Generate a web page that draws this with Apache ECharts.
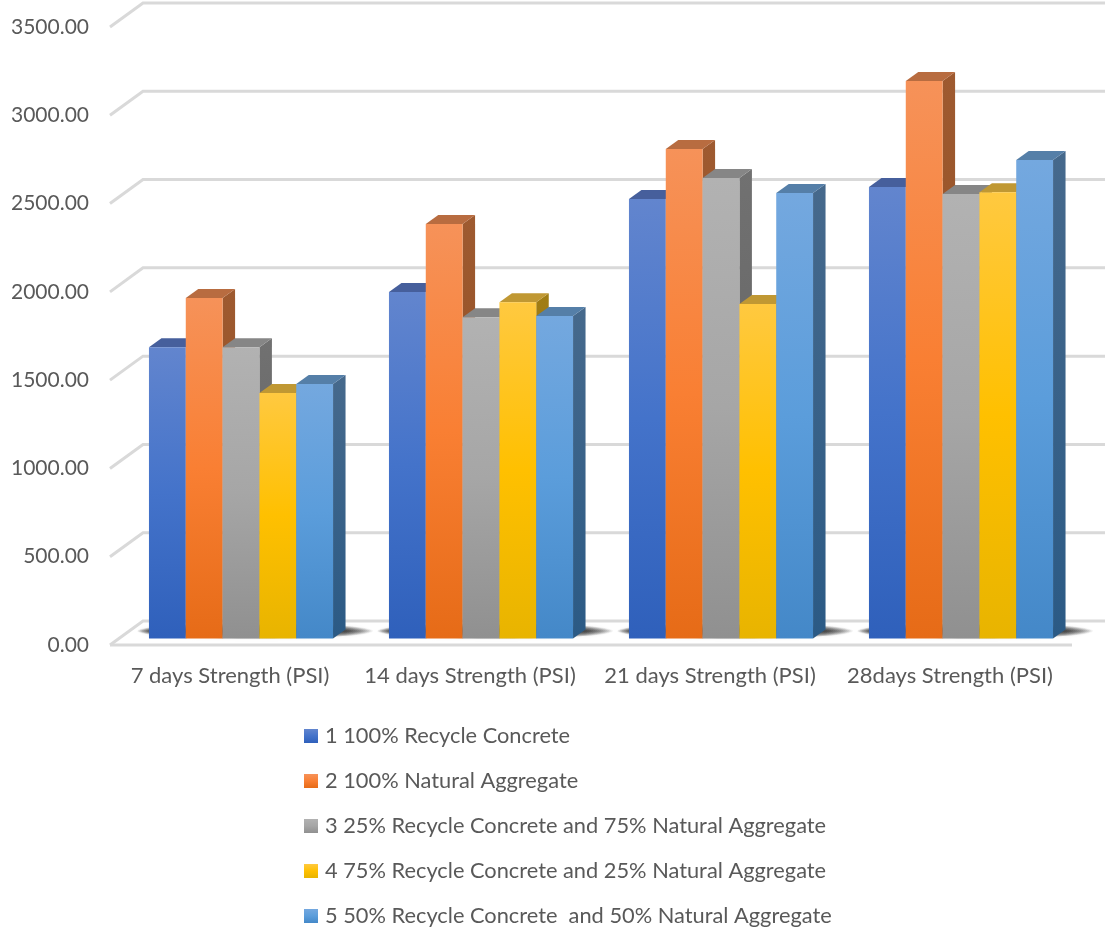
<!DOCTYPE html>
<html>
<head>
<meta charset="utf-8">
<title>Compressive strength by curing age</title>
<script src="https://cdn.jsdelivr.net/npm/echarts@6/dist/echarts.min.js"></script>
<style>
  html, body { margin: 0; padding: 0; background: #fff; }
  #chart { width: 1105px; height: 932px; }
</style>
</head>
<body>
<div id="chart"></div>
<script>
// Category labels and value ticks
const categories = ['7 days Strength (PSI)', '14 days Strength (PSI)', '21 days Strength (PSI)', '28days Strength (PSI)'];
const yTicks = [0, 500, 1000, 1500, 2000, 2500, 3000, 3500];

// Compressive strength per mix, one value per curing age
const recycle100 = [1650, 1962, 2489, 2557];
const natural100 = [1928, 2347, 2772, 3157];
const recycle25 = [1650, 1820, 2608, 2517];
const recycle75 = [1390, 1905, 1894, 2528];
const recycle50 = [1441, 1826, 2523, 2710];

const seriesNames = [
  '1 100% Recycle Concrete',
  '2 100% Natural Aggregate',
  '3 25% Recycle Concrete and 75% Natural Aggregate',
  '4 75% Recycle Concrete and 25% Natural Aggregate',
  '5 50% Recycle Concrete  and 50% Natural Aggregate'
];
const seriesValues = [recycle100, natural100, recycle25, recycle75, recycle50];

// Face colours of each column: front gradient, side gradient, lid
const faceColors = [
  { front: ['#6285CE', '#4473CA', '#2F60BB'], side: ['#3F5C98', '#274A8C'], top: '#465F9C' },
  { front: ['#F69259', '#F97F33', '#E66B17'], side: ['#9E5A30', '#8E4A1C'], top: '#B86C40' },
  { front: ['#B2B2B2', '#A6A6A6', '#909090'], side: ['#717171', '#5E5E5E'], top: '#868686' },
  { front: ['#FFC940', '#FFC000', '#E8B400'], side: ['#A17D14', '#8C6C08'], top: '#C09833' },
  { front: ['#74A8DF', '#5B9DDB', '#4488C8'], side: ['#46698C', '#2B5A85'], top: '#557FA8' }
];

const FONT = 'Lato, "Open Sans", sans-serif';
const TEXT_COLOR = '#595959';
const GRID_COLOR = '#D9D9D9';

// Oblique projection of the chart box
const WALL_DX = 33, WALL_DY = -24;   // front edge of the floor to the back wall
const BAR_DX = 11, BAR_DY = -6.5;    // front edge of the floor to the column fronts
const DEPTH_DX = 12.5, DEPTH_DY = -9; // depth of a column
const FLOOR_OVERHANG = 2;
const GROUP_RATIO = 0.767;

const vGradient = (stops) => new echarts.graphic.LinearGradient(0, 0, 0, 1,
  stops.map((color, i) => ({ offset: i / (stops.length - 1), color })));

// Wall lines: slanted tick on the side wall, then a rule across the back wall
function renderWall(params, api) {
  const box = params.coordSys;
  const y = api.coord([0, api.value(0)])[1];
  const left = box.x, right = box.x + box.width + FLOOR_OVERHANG;
  const children = [{
    type: 'polyline',
    shape: { points: [[left, y], [left + WALL_DX, y + WALL_DY], [right + WALL_DX, y + WALL_DY]] },
    style: { stroke: GRID_COLOR, lineWidth: 3, fill: null }
  }];
  if (api.value(0) === 0) {
    children.push({
      type: 'line',
      shape: { x1: left, y1: y, x2: right, y2: y },
      style: { stroke: GRID_COLOR, lineWidth: 3 }
    });
  }
  return { type: 'group', children };
}

// Soft contact shadow on the floor around each cluster of columns
function renderFloorShadow(params, api) {
  const center = api.coord([api.value(0), 0]);
  const groupW = api.size([1, 0])[0] * GROUP_RATIO;
  const x0 = center[0] + BAR_DX - groupW / 2 - 12;
  const x1 = center[0] + BAR_DX + groupW / 2 + DEPTH_DX + 28;
  const cy = center[1] + BAR_DY - 7.5;
  const fade = new echarts.graphic.LinearGradient(0, 0, 1, 0, [
    { offset: 0, color: 'rgba(30,30,30,0)' },
    { offset: 0.05, color: 'rgba(30,30,30,0.2)' },
    { offset: 0.88, color: 'rgba(30,30,30,0.26)' },
    { offset: 1, color: 'rgba(30,30,30,0)' }
  ]);
  const layers = [7.5, 6, 4.5, 3, 1.5].map((ry) => ({
    type: 'ellipse',
    shape: { cx: (x0 + x1) / 2, cy, rx: (x1 - x0) / 2, ry },
    style: { fill: fade, shadowBlur: 4, shadowColor: 'rgba(30,30,30,0.12)' }
  }));
  return { type: 'group', children: layers };
}

// One column drawn as front, side and lid faces
function columnRenderer(seriesIndex) {
  const colors = faceColors[seriesIndex];
  return function (params, api) {
    const topPt = api.coord([api.value(0), api.value(1)]);
    const basePt = api.coord([api.value(0), 0]);
    const groupW = api.size([1, 0])[0] * GROUP_RATIO;
    const w = groupW / seriesNames.length;
    const x = topPt[0] + BAR_DX - groupW / 2 + seriesIndex * w;
    const yTop = topPt[1] + BAR_DY, yBase = basePt[1] + BAR_DY;
    const dx = DEPTH_DX, dy = DEPTH_DY;
    return {
      type: 'group',
      children: [
        {
          type: 'polygon',
          shape: { points: [[x + w, yTop], [x + w + dx, yTop + dy], [x + w + dx, yBase + dy], [x + w, yBase]] },
          style: { fill: vGradient(colors.side) }
        },
        {
          type: 'polygon',
          shape: { points: [[x, yTop], [x + dx, yTop + dy], [x + w + dx, yTop + dy], [x + w, yTop]] },
          style: { fill: colors.top }
        },
        {
          type: 'rect',
          shape: { x, y: yTop, width: w, height: yBase - yTop },
          style: { fill: vGradient(colors.front) }
        }
      ]
    };
  };
}

const chart = echarts.init(document.getElementById('chart'), null, { renderer: 'canvas' });

chart.setOption({
  animation: false,
  backgroundColor: '#ffffff',
  textStyle: { fontFamily: FONT },
  grid: { left: 110, top: 27, width: 960, height: 618, containLabel: false },
  xAxis: {
    type: 'category',
    data: categories,
    axisLine: { show: false },
    axisTick: { show: false },
    axisLabel: { color: TEXT_COLOR, fontFamily: FONT, fontSize: 22, margin: 20, interval: 0 }
  },
  yAxis: {
    type: 'value',
    min: 0,
    max: 3500,
    interval: 500,
    axisLine: { show: false },
    axisTick: { show: false },
    splitLine: { show: false },
    axisLabel: {
      color: TEXT_COLOR, fontFamily: FONT, fontSize: 21, margin: 21,
      padding: [9, 0, 0, 0],
      formatter: (v) => v.toFixed(2)
    }
  },
  legend: {
    orient: 'vertical',
    left: 299,
    top: 720,
    height: 230,
    icon: 'rect',
    itemWidth: 14,
    itemHeight: 14,
    itemGap: 23,
    align: 'left',
    selectedMode: false,
    data: seriesNames,
    textStyle: { color: TEXT_COLOR, fontFamily: FONT, fontSize: 21.8, padding: [0, 0, 0, 2] }
  },
  series: [
    {
      type: 'custom',
      name: 'wall',
      silent: true,
      z: 1,
      renderItem: renderWall,
      encode: { y: 0 },
      data: yTicks.map((v) => [v])
    },
    {
      type: 'custom',
      name: 'floor shadow',
      silent: true,
      z: 2,
      renderItem: renderFloorShadow,
      encode: { x: 0 },
      data: categories.map((c, i) => [i])
    }
  ].concat(seriesNames.map((name, s) => ({
    type: 'custom',
    name,
    silent: true,
    z: 3,
    itemStyle: { color: vGradient(faceColors[s].front) },
    renderItem: columnRenderer(s),
    encode: { x: 0, y: 1 },
    data: seriesValues[s].map((v, i) => [i, v])
  })))
});
</script>
</body>
</html>
